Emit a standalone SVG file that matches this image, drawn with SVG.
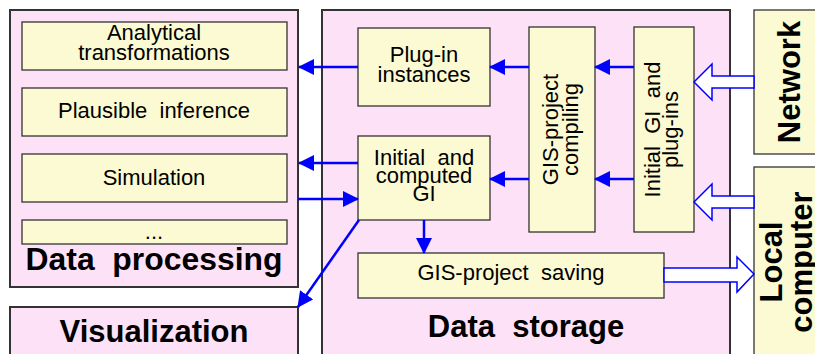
<svg xmlns="http://www.w3.org/2000/svg" width="815" height="354" viewBox="0 0 815 354" xml:space="preserve">
<style>
.outer{fill:#fde2f7;stroke:#333;stroke-width:2}
.box{fill:#fcfad2;stroke:#333;stroke-width:1.3}
text{white-space:pre}
.t{font-family:"Liberation Sans",Arial,sans-serif;font-size:22px;fill:#000;text-anchor:middle}
.b{font-family:"Liberation Sans",Arial,sans-serif;font-weight:bold;font-size:31px;fill:#000;text-anchor:middle}
.ln{stroke:#0000ff;stroke-width:2.5;fill:none}
.blk{fill:#fff;stroke:#0000ff;stroke-width:1.5}
</style>
<defs>
<marker id="ah" markerWidth="16" markerHeight="16" viewBox="0 0 16 16" refX="15" refY="8" orient="auto" markerUnits="userSpaceOnUse">
<path d="M0,0 L16,8 L0,16 z" fill="#0000ff"/>
</marker>
</defs>
<rect width="815" height="354" fill="#fff"/>
<g id="data-processing">
<rect class="outer" x="10" y="10" width="288" height="277"/>
<text class="b" x="154" y="270" font-size="26" textLength="257" lengthAdjust="spacingAndGlyphs">Data  processing</text>
</g>
<g id="analytical">
<rect class="box" x="22" y="22" width="265" height="48"/>
<text class="t" x="154" y="40">Analytical</text>
<text class="t" x="154" y="60">transformations</text>
</g>
<g id="plausible">
<rect class="box" x="22" y="88" width="265" height="48"/>
<text class="t" x="154" y="118">Plausible  inference</text>
</g>
<g id="simulation">
<rect class="box" x="22" y="154" width="265" height="48"/>
<text class="t" x="154" y="185">Simulation</text>
</g>
<g id="dots">
<rect class="box" x="22" y="220" width="265" height="24"/>
<text class="t" x="154" y="239">...</text>
</g>
<g id="visualization">
<rect class="outer" x="10" y="307" width="288" height="60"/>
<text class="b" x="154" y="342">Visualization</text>
</g>
<g id="data-storage">
<rect class="outer" x="322" y="10" width="408" height="360"/>
<text class="b" x="526" y="337">Data  storage</text>
</g>
<g id="plugin-instances">
<rect class="box" x="358" y="28" width="132" height="78"/>
<text class="t" x="424" y="62">Plug-in</text>
<text class="t" x="424" y="82">instances</text>
</g>
<g id="initial-computed">
<rect class="box" x="358" y="136" width="132" height="84"/>
<text class="t" x="424" y="165">Initial  and</text>
<text class="t" x="424" y="183">computed</text>
<text class="t" x="424" y="201">GI</text>
</g>
<g id="compiling">
<rect class="box" x="529" y="27" width="66" height="205"/>
<text class="t" transform="translate(558,129.5) rotate(-90)" x="0" y="0">GIS-project</text>
<text class="t" transform="translate(578,129.5) rotate(-90)" x="0" y="0">compiling</text>
</g>
<g id="initial-plugins">
<rect class="box" x="634" y="27" width="60" height="205"/>
<text class="t" transform="translate(660,129.5) rotate(-90)" x="0" y="0">Initial  GI  and</text>
<text class="t" transform="translate(678,129.5) rotate(-90)" x="0" y="0">plug-ins</text>
</g>
<g id="saving">
<rect class="box" x="358" y="253" width="306" height="45"/>
<text class="t" x="511" y="280">GIS-project  saving</text>
</g>
<g id="network">
<rect class="box" x="754" y="10" width="70" height="144" stroke-width="1.5"/>
<text class="b" transform="translate(800,82) rotate(-90)" x="0" y="0">Network</text>
</g>
<g id="local-computer">
<rect class="box" x="754" y="167" width="70" height="200" stroke-width="1.5"/>
<text class="b" transform="translate(782,262) rotate(-90)" x="0" y="0">Local</text>
<text class="b" transform="translate(812,262) rotate(-90)" x="0" y="0">computer</text>
</g>
<g id="connectors">
<line class="ln" x1="358" y1="67" x2="299" y2="67" marker-end="url(#ah)"/>
<line class="ln" x1="358" y1="163" x2="299" y2="163" marker-end="url(#ah)"/>
<line class="ln" x1="298" y1="199" x2="358" y2="199" marker-end="url(#ah)"/>
<line class="ln" x1="359" y1="220" x2="298" y2="307" marker-end="url(#ah)"/>
<line class="ln" x1="424" y1="220" x2="424" y2="253" marker-end="url(#ah)"/>
<line class="ln" x1="529" y1="67" x2="490" y2="67" marker-end="url(#ah)"/>
<line class="ln" x1="529" y1="179" x2="490" y2="179" marker-end="url(#ah)"/>
<line class="ln" x1="634" y1="67" x2="595" y2="67" marker-end="url(#ah)"/>
<line class="ln" x1="634" y1="179" x2="595" y2="179" marker-end="url(#ah)"/>
<polygon class="blk" points="754,76 712,76 712,64 694,82 712,100 712,88 754,88"/>
<polygon class="blk" points="754,196 712,196 712,184 694,202 712,220 712,208 754,208"/>
<polygon class="blk" points="664,268 737,268 737,257 754,274 737,292 737,282 664,282"/>
</g>
</svg>
